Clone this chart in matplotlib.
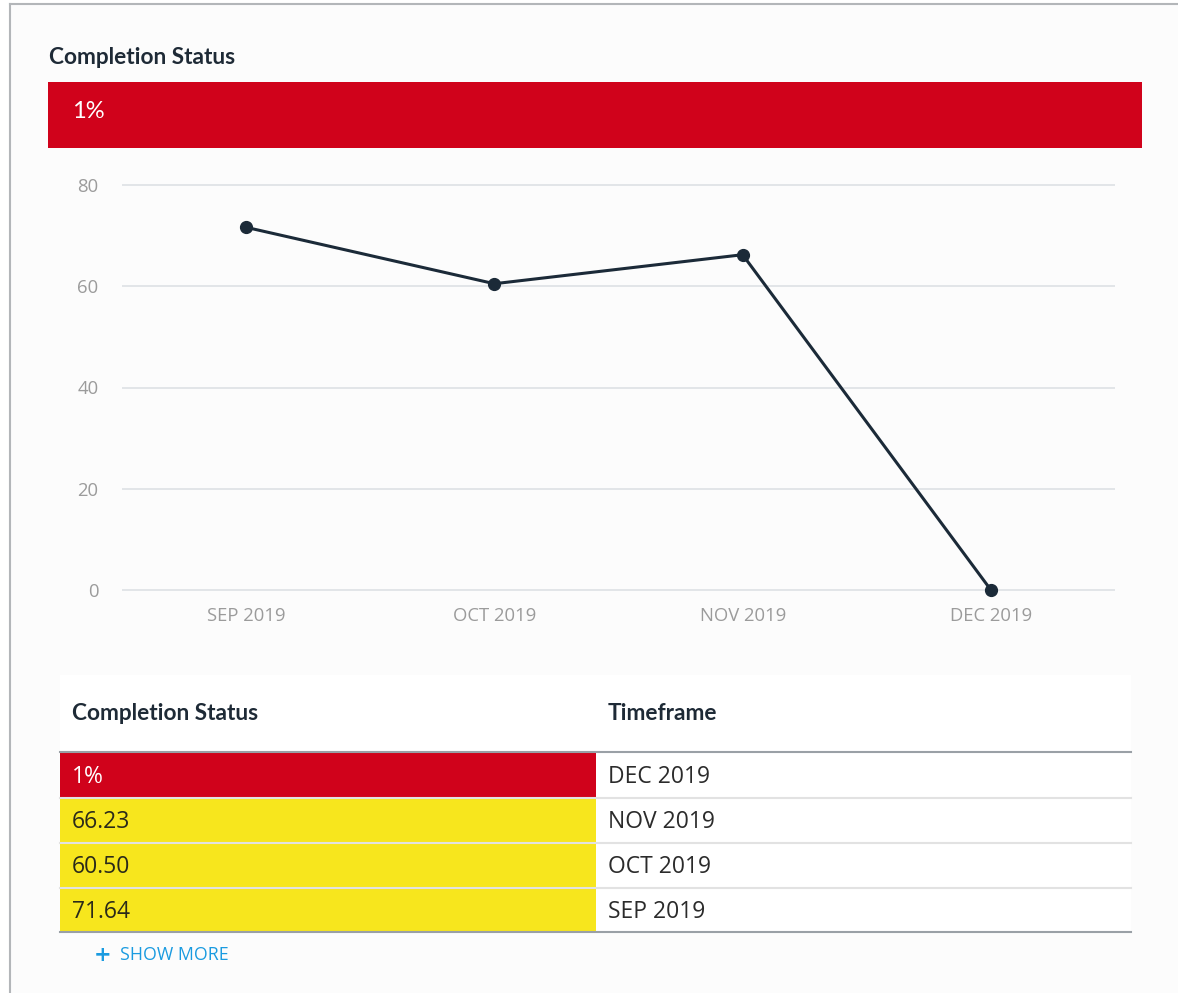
import matplotlib.pyplot as plt
from matplotlib.patches import Rectangle

# data
months = ["SEP 2019", "OCT 2019", "NOV 2019", "DEC 2019"]
status = [71.64, 60.50, 66.23, 0.01]
status_labels = ["71.64", "60.50", "66.23", "1%"]
yticks = [0, 20, 40, 60, 80]

W, H = 1178, 993
fig = plt.figure(figsize=(W / 100, H / 100), dpi=100)
fig.patch.set_facecolor("white")

# background layer in pixel coords
bg = fig.add_axes([0, 0, 1, 1])
bg.set_xlim(0, W)
bg.set_ylim(H, 0)
bg.axis("off")

bg.add_patch(Rectangle((10, 4), W - 10, H, facecolor="#fcfcfc", edgecolor="none"))
bg.plot([10, W], [4, 4], color="#b3b6b9", lw=1.5)
bg.plot([10, 10], [4, H], color="#b3b6b9", lw=1.5)

bg.text(49, 58, "Completion Status", fontsize=16.3, fontweight="bold", family="Lato",
        color="#1e2a36", va="center")
bg.add_patch(Rectangle((48, 82), 1094, 66, facecolor="#d0021b", edgecolor="none"))
bg.text(72, 112, status_labels[-1], color="white", fontsize=17, va="center", family="Lato")

# table
bg.add_patch(Rectangle((60, 675), 1071, 257, facecolor="white", edgecolor="none"))
bg.text(72, 714, "Completion Status", fontsize=16.3, fontweight="bold", family="Lato",
        color="#1e2a36", va="center")
bg.text(608, 714, "Timeframe", fontsize=16.3, fontweight="bold", family="Lato",
        color="#1e2a36", va="center")

rows = list(zip(months, status, status_labels))[::-1]
for i, (m, v, lab) in enumerate(rows):
    y0 = 753 + i * 45
    cell = "#d0021b" if v < 50 else "#f7e61d"
    txt = "white" if v < 50 else "#2a2a1a"
    bg.add_patch(Rectangle((60, y0), 536, 44, facecolor=cell, edgecolor="none"))
    bg.text(72, y0 + 24, lab, color=txt, fontsize=16.5, va="center", family="Open Sans")
    bg.text(608, y0 + 24, m, color="#2b2b2b", fontsize=16.5, va="center", family="Open Sans")
    if i < len(rows) - 1:
        bg.plot([60, 1131], [y0 + 44.5, y0 + 44.5], color="#e2e2e2", lw=1.5)
bg.plot([60, 1131], [752, 752], color="#9aa0a6", lw=1.5)
bg.plot([60, 1131], [932, 932], color="#9aa0a6", lw=1.5)

bg.text(94, 955, "+", color="#1a9be0", fontsize=15, fontweight="bold", va="center")
bg.text(120, 955, "SHOW MORE", color="#1a9be0", fontsize=12.8, va="center", family="Open Sans")

# line chart
ppu = (590 - 185) / 80
top = 185 - 2 * ppu
bottom = 590 + 2 * ppu
ax = fig.add_axes([122 / W, (H - bottom) / H, 993 / W, (bottom - top) / H])
ax.patch.set_alpha(0)
ax.plot(range(len(months)), status, color="#1b2a38", lw=2.2, marker="o", ms=8.5, zorder=3)
ax.set_xlim(-0.5, len(months) - 0.5)
ax.set_ylim(-2, 82)
ax.set_yticks(yticks)
ax.set_xticks(range(len(months)))
ax.set_xticklabels(months)
ax.grid(axis="y", color="#dde1e4", lw=1.2)
ax.grid(axis="x", visible=False)
for s in ax.spines.values():
    s.set_visible(False)
ax.tick_params(axis="y", length=0, pad=17, labelsize=13.3, labelcolor="#9b9b9b")
ax.tick_params(axis="x", length=0, pad=5, labelsize=13.3, labelcolor="#9b9b9b")
for t in ax.get_xticklabels() + ax.get_yticklabels():
    t.set_family("Open Sans")

fig.savefig("out.png", dpi=100)
